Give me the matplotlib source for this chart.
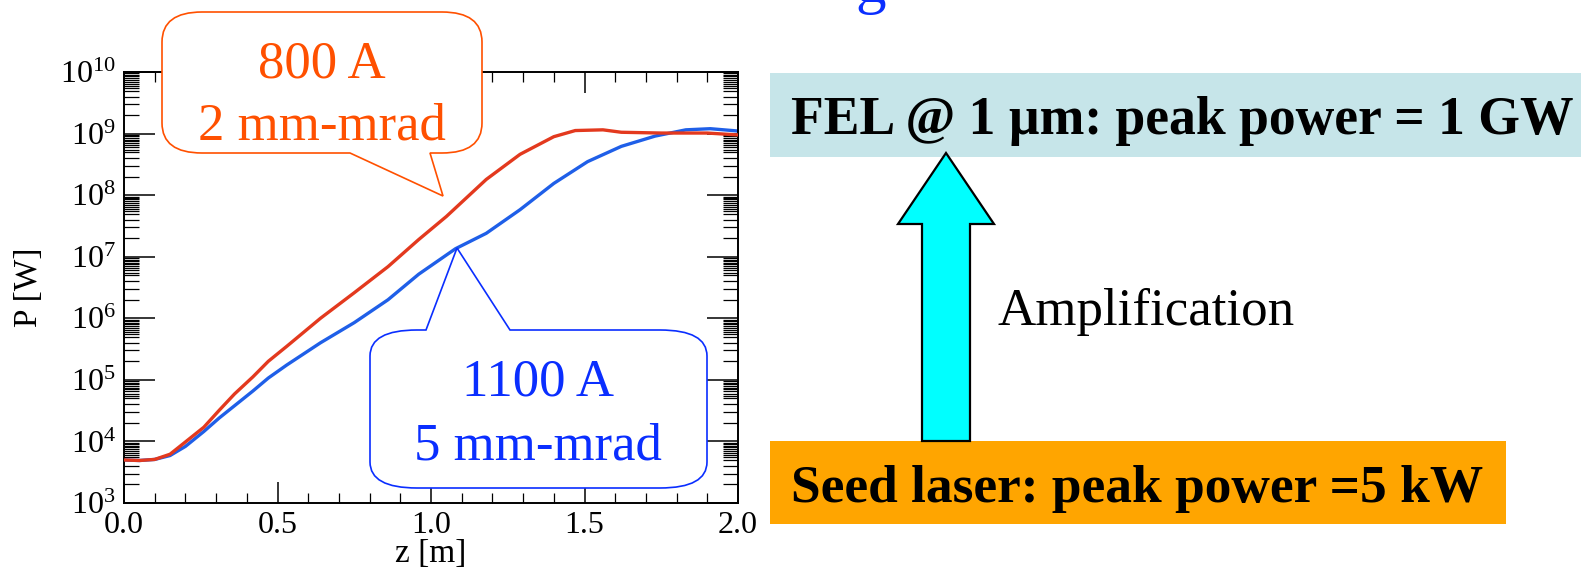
"""Seeded FEL gain curves with callouts and amplification diagram."""

import numpy as np
import matplotlib
matplotlib.use("Agg")
import matplotlib.pyplot as plt
from matplotlib.path import Path
from matplotlib.patches import PathPatch, Rectangle, Polygon
from matplotlib.transforms import Affine2D
from matplotlib.ticker import FixedLocator, FuncFormatter, MultipleLocator, FormatStrFormatter

plt.rcParams["font.family"] = ["Liberation Serif", "DejaVu Serif"]
plt.rcParams["mathtext.fontset"] = "custom"
plt.rcParams["mathtext.rm"] = "Liberation Serif"

# --- data ---
z_red = [0.00, 0.05, 0.10, 0.15, 0.20, 0.26, 0.31, 0.36, 0.42, 0.47, 0.53, 0.64, 0.75, 0.86,
         0.96, 1.05, 1.18, 1.29, 1.40, 1.47, 1.56, 1.62, 1.75, 1.90, 2.00]
p_red = [5.0e3, 4.9e3, 5.1e3, 6.2e3, 9.8e3, 1.7e4, 3.2e4, 5.9e4, 1.12e5, 2.0e5, 3.5e5, 1.0e6,
         2.6e6, 6.9e6, 1.9e7, 4.5e7, 1.8e8, 4.6e8, 8.9e8, 1.12e9, 1.15e9, 1.05e9, 1.02e9,
         1.02e9, 9.5e8]

z_blue = [0.00, 0.05, 0.10, 0.15, 0.20, 0.26, 0.31, 0.36, 0.42, 0.47, 0.53, 0.64, 0.75, 0.86,
          0.96, 1.08, 1.18, 1.29, 1.40, 1.51, 1.62, 1.73, 1.83, 1.91, 2.00]
p_blue = [5.0e3, 4.9e3, 5.1e3, 5.9e3, 8.3e3, 1.45e4, 2.4e4, 3.8e4, 6.6e4, 1.07e5, 1.74e5, 4.0e5,
          8.5e5, 2.0e6, 5.2e6, 1.35e7, 2.4e7, 5.8e7, 1.55e8, 3.5e8, 6.2e8, 9.1e8, 1.15e9,
          1.2e9, 1.1e9]

red_label = ["800 A", "2 mm-mrad"]
blue_label = ["1100 A", "5 mm-mrad"]
fel_text = "FEL @ 1 \u00b5m: peak power = 1 GW"
seed_text = "Seed laser: peak power =5 kW"
amp_text = "Amplification"

RED = "#e3391e"
BLUE = "#1f5fe8"
ORANGE_TXT = "#ff5000"
BLUE_TXT = "#0a2eff"

W, H = 1581, 579
fig = plt.figure(figsize=(W / 100, H / 100), dpi=100)
pix = Affine2D().scale(1 / W, -1 / H).translate(0, 1) + fig.transFigure

# --- gain curves ---
ax = fig.add_axes([124 / W, 1 - 503 / H, 614 / W, 431 / H])
ax.plot(z_red, p_red, color=RED, lw=2.4, zorder=3)
ax.plot(z_blue, p_blue, color=BLUE, lw=2.4, zorder=2)
ax.set_yscale("log")
ax.set_xlim(0, 2)
ax.set_ylim(1e3, 1e10)

ax.xaxis.set_major_locator(MultipleLocator(0.5))
ax.xaxis.set_minor_locator(MultipleLocator(0.1))
ax.xaxis.set_major_formatter(FormatStrFormatter("%.1f"))
ax.yaxis.set_major_locator(FixedLocator([10.0 ** k for k in range(3, 11)]))
subs = [2, 3, 4, 5, 5.5, 6, 6.5, 7, 7.5, 8, 8.5, 9, 9.5]
ax.yaxis.set_minor_locator(FixedLocator([s * 10.0 ** k for k in range(3, 10) for s in subs]))
ax.yaxis.set_major_formatter(FuncFormatter(lambda v, _: r"$\mathregular{10^{%d}}$" % round(np.log10(v))))
ax.yaxis.set_minor_formatter(FuncFormatter(lambda v, _: ""))

ax.tick_params(axis="y", which="major", direction="in", length=22, width=1.1,
               right=True, labelsize=23, pad=6)
ax.tick_params(axis="y", which="minor", direction="in", length=10.5, width=0.9, right=True)
ax.tick_params(axis="x", which="major", direction="in", length=15, width=1.1,
               top=True, labelsize=23, pad=6)
ax.tick_params(axis="x", which="minor", direction="in", length=7, width=0.9, top=True)
for s in ax.spines.values():
    s.set_linewidth(1.4)

ax.set_xlabel("z [m]", fontsize=24)
ax.xaxis.set_label_coords(0.5, -0.082)
ax.set_ylabel("P [W]", fontsize=24)
ax.yaxis.set_label_coords(-0.13, 0.5)


def callout(x0, y0, x1, y1, rx, ry, base, tip, side):
    a, b = base
    v = [(x0 + rx, y0)]
    c = [Path.MOVETO]
    if side == "top":
        v += [(a, y0), tip, (b, y0)]
        c += [Path.LINETO] * 3
    v += [(x1 - rx, y0), (x1, y0), (x1, y0 + ry), (x1, y1 - ry), (x1, y1), (x1 - rx, y1)]
    c += [Path.LINETO, Path.CURVE3, Path.CURVE3, Path.LINETO, Path.CURVE3, Path.CURVE3]
    if side == "bottom":
        v += [(b, y1), tip, (a, y1)]
        c += [Path.LINETO] * 3
    v += [(x0 + rx, y1), (x0, y1), (x0, y1 - ry), (x0, y0 + ry), (x0, y0), (x0 + rx, y0), (x0 + rx, y0)]
    c += [Path.LINETO, Path.CURVE3, Path.CURVE3, Path.LINETO, Path.CURVE3, Path.CURVE3, Path.CLOSEPOLY]
    return Path(v, c)


# orange callout (800 A)
fig.add_artist(PathPatch(callout(162, 12, 482, 153, 40, 30, (350, 430), (443, 196), "bottom"),
                         transform=pix, facecolor="white", edgecolor=ORANGE_TXT, lw=1.2, zorder=5))
for txt, yb in zip(red_label, [77, 140]):
    fig.text(322, yb, txt, transform=pix, ha="center", va="baseline",
             fontsize=38, color=ORANGE_TXT, zorder=6)

# blue callout (1100 A)
fig.add_artist(PathPatch(callout(370, 330, 707, 488, 47, 26, (426, 510), (457, 248), "top"),
                         transform=pix, facecolor="white", edgecolor=BLUE_TXT, lw=1.2, zorder=5))
for txt, yb in zip(blue_label, [395, 459]):
    fig.text(538, yb, txt, transform=pix, ha="center", va="baseline",
             fontsize=38, color=BLUE_TXT, zorder=6)

# --- amplification diagram ---
fig.add_artist(Rectangle((770, 72.7), W - 770, 84, transform=pix,
                         facecolor="#c6e5e9", edgecolor="none", zorder=1))
fig.add_artist(Rectangle((770, 441), 736, 83, transform=pix,
                         facecolor="#ffa500", edgecolor="none", zorder=1))
arrow_xy = [(946, 153), (994, 224), (970, 224), (970, 441), (922, 441), (922, 224), (898, 224)]
fig.add_artist(Polygon(arrow_xy, closed=True, transform=pix,
                       facecolor="#00ffff", edgecolor="black", lw=1.6, zorder=3))

fig.text(791, 134, fel_text, transform=pix, ha="left", va="baseline",
         fontsize=38.6, fontweight="bold", color="black", zorder=4)
fig.text(791, 502, seed_text, transform=pix, ha="left", va="baseline",
         fontsize=38.4, fontweight="bold", color="black", zorder=4)
fig.text(998, 325, amp_text, transform=pix, ha="left", va="baseline",
         fontsize=38.2, color="black", zorder=4)

# cut-off title descender at the very top
fig.text(855, 2, "g", transform=pix, ha="left", va="baseline",
         fontsize=44, color=BLUE_TXT, zorder=4)

fig.savefig("out.png", dpi=100)
